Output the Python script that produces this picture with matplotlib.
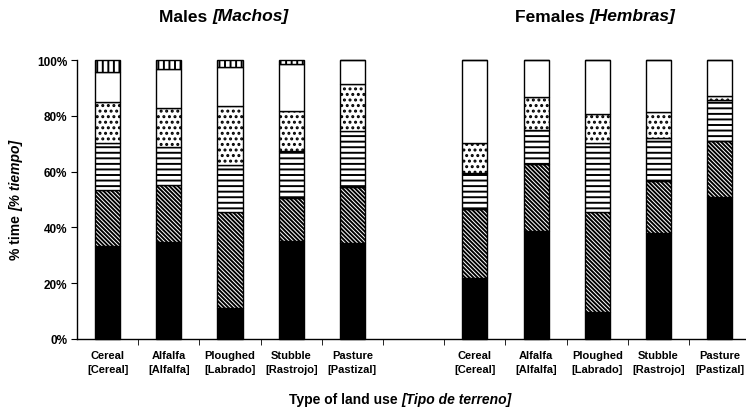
import matplotlib.pyplot as plt
import numpy as np

plt.rcParams['font.family'] = ['Liberation Sans', 'DejaVu Sans']
plt.rcParams['font.weight'] = 'bold'
plt.rcParams['hatch.linewidth'] = 1.4

# land use categories, males first then females
land_use = ['Cereal\n[Cereal]', 'Alfalfa\n[Alfalfa]', 'Ploughed\n[Labrado]',
            'Stubble\n[Rastrojo]', 'Pasture\n[Pastizal]']

# % time in each segment (bottom to top), 5 male bars then 5 female bars
solid      = [33.3, 34.9, 11.2, 35.2, 34.3,   21.7, 38.7,  9.8, 38.1, 51.0]
diagonal   = [20.1, 20.3, 34.2, 15.2, 20.1,   24.8, 23.9, 35.8, 18.6, 20.1]
horizontal = [17.0, 13.7, 17.0, 17.1, 20.3,   13.1, 12.3, 24.8, 15.2, 14.6]
dotted     = [14.4, 13.8, 21.1, 14.2, 16.7,   10.5, 12.0, 10.1,  9.6,  1.5]
blank      = [11.0, 14.1, 13.9, 16.9,  8.6,   29.9, 13.1, 19.5, 18.5, 12.8]
vertical   = [ 4.2,  3.2,  2.6,  1.4,  0.0,    0.0,  0.0,  0.0,  0.0,  0.0]

series = [solid, diagonal, horizontal, dotted, blank, vertical]
styles = [('black', None), ('white', '\\' * 8), ('white', '---'),
          ('white', '...'), ('white', None), ('white', '|||')]

x = np.array([0, 1, 2, 3, 4, 6, 7, 8, 9, 10])

W, H = 746, 414
fig = plt.figure(figsize=(W / 100, H / 100), dpi=100)
ax = fig.add_axes([77 / W, 1 - 340 / H, 1 - 77 / W, 279 / H])

bottom = np.zeros(len(x))
for vals, (fc, hatch) in zip(series, styles):
    vals = np.array(vals)
    bars = ax.bar(x, vals, width=0.41, bottom=bottom, color=fc,
                  edgecolor='black', linewidth=1.0, hatch=hatch)
    for b in bars:
        b.set_clip_on(False)
    bottom += vals

ax.set_xlim(-0.5, 10.43)
ax.set_ylim(0, 100)
ax.set_yticks(range(0, 101, 20))
ax.set_yticklabels([f'{v}%' for v in range(0, 101, 20)], fontsize=8.5, fontweight='bold')
ax.set_xticks(x)
ax.set_xticklabels(land_use * 2, fontsize=8, fontweight='bold', linespacing=1.5)
ax.set_xticks(np.arange(0.5, 10, 1), minor=True)
ax.tick_params(axis='x', which='major', length=0, pad=8)
ax.tick_params(axis='x', which='minor', length=4, direction='out')
ax.tick_params(axis='y', length=4, direction='out', pad=3)

for side in ['top', 'right']:
    ax.spines[side].set_visible(False)
for side in ['left', 'bottom']:
    ax.spines[side].set_linewidth(1.0)

renderer = fig.canvas.get_renderer()


def two_part_text(xc, yc, plain, italic, size, rotation=0):
    # bold upright part followed by a bold italic part, centred on (xc, yc) in pixels
    t1 = fig.text(0, 0, plain, fontsize=size, fontweight='bold', rotation=rotation)
    t2 = fig.text(0, 0, italic, fontsize=size, fontweight='bold', style='italic',
                  rotation=rotation)
    b1 = t1.get_window_extent(renderer)
    b2 = t2.get_window_extent(renderer)
    if rotation == 0:
        start = xc - (b1.width + b2.width) / 2
        t1.set_position((start / W, yc / H))
        t2.set_position(((start + b1.width) / W, yc / H))
        for t in (t1, t2):
            t.set_ha('left')
            t.set_va('center')
    else:
        start = yc - (b1.height + b2.height) / 2
        t1.set_position((xc / W, start / H))
        t2.set_position((xc / W, (start + b1.height) / H))
        for t in (t1, t2):
            t.set_ha('center')
            t.set_va('bottom')


two_part_text(224, H - 17, 'Males ', '[Machos]', 12.5)
two_part_text(595, H - 17, 'Females ', '[Hembras]', 12.5)
two_part_text(16, H - 200, '% time ', '[% tiempo]', 10, rotation=90)
two_part_text(400, H - 400, 'Type of land use ', '[Tipo de terreno]', 10)

fig.savefig('out.png', dpi=100)
